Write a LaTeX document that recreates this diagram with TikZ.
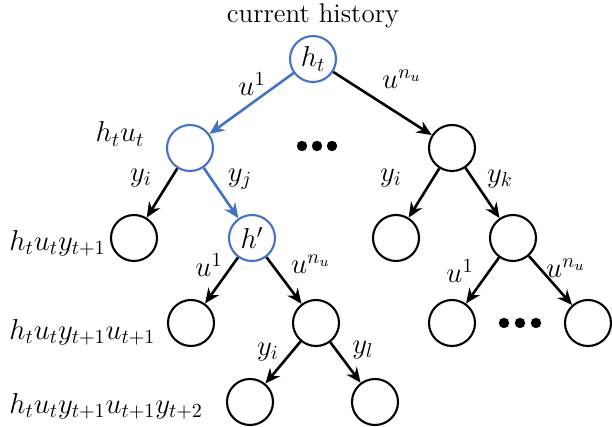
\documentclass[tikz,border=0pt]{standalone}
\usetikzlibrary{arrows.meta}
\definecolor{hblue}{RGB}{68,114,196}
\begin{document}
\begin{tikzpicture}[x=0.5pt,y=-0.5pt,
  every node/.style={font=\fontsize{14.3}{17}\selectfont},
  st/.style={circle,draw=black,line width=1.05pt,minimum size=23pt,inner sep=0pt},
  bst/.style={st,draw=hblue},
  arr/.style={line width=1.3pt,-{Stealth[length=7.5pt,width=6.5pt]}},
  barr/.style={arr,draw=hblue,color=hblue},
  lbl/.style={inner sep=0pt},
  dotc/.style={circle,fill=black,inner sep=0pt,minimum size=5.2pt}]
\useasboundingbox (0,0) rectangle (612,427);
% nodes
\node[bst] (r) at (313,59) {$h_t$};
\node[bst] (a) at (190,148) {};
\node[st] (b) at (452,148) {};
\node[st] (aa) at (134,238) {};
\node[bst] (ab) at (252,238) {$h'$};
\node[st] (ba) at (396,238) {};
\node[st] (bb) at (513,238) {};
\node[st] (aba) at (191,323) {};
\node[st] (abb) at (316,323) {};
\node[st] (bba) at (452,323) {};
\node[st] (bbb) at (588,323) {};
\node[st] (abba) at (250,402) {};
\node[st] (abbb) at (375,402) {};
% dots
\node[dotc] (d1) at (302,146) {};
\node[dotc] (d2) at (317,146) {};
\node[dotc] (d3) at (332,146) {};
\node[dotc] (e1) at (504,323) {};
\node[dotc] (e2) at (520,323) {};
\node[dotc] (e3) at (536,323) {};
% edges
\draw[barr] (r) -- (a);
\draw[arr] (r) -- (b);
\draw[arr] (a) -- (aa);
\draw[barr] (a) -- (ab);
\draw[arr] (b) -- (ba);
\draw[arr] (b) -- (bb);
\draw[arr] (ab) -- (aba);
\draw[arr] (ab) -- (abb);
\draw[arr] (bb) -- (bba);
\draw[arr] (bb) -- (bbb);
\draw[arr] (abb) -- (abba);
\draw[arr] (abb) -- (abbb);
% labels
\node[lbl,font=\fontsize{13.5}{16}\selectfont] (t0) at (313,16) {current history};
\node[lbl] (l1) at (252,84) {$u^1$};
\node[lbl] (l2) at (402,79) {$u^{n_u}$};
\node[lbl] (n1) at (120,134) {$h_tu_t$};
\node[lbl] (l3) at (141,178) {$y_i$};
\node[lbl] (l4) at (240,179) {$y_j$};
\node[lbl] (l5) at (391,178) {$y_i$};
\node[lbl] (l6) at (500,179) {$y_k$};
\node[lbl,anchor=west] (n2) at (9,243) {$h_tu_ty_{t+1}$};
\node[lbl] (l7) at (209,265) {$u^1$};
\node[lbl] (l8) at (311,264) {$u^{n_u}$};
\node[lbl] (l9) at (460,271) {$u^1$};
\node[lbl] (l10) at (566,268) {$u^{n_u}$};
\node[lbl,anchor=west] (n3) at (9,332) {$h_tu_ty_{t+1}u_{t+1}$};
\node[lbl] (l11) at (268,352) {$y_i$};
\node[lbl] (l12) at (363,350) {$y_l$};
\node[lbl,anchor=west] (n4) at (9,406) {$h_tu_ty_{t+1}u_{t+1}y_{t+2}$};
\end{tikzpicture}
\end{document}
